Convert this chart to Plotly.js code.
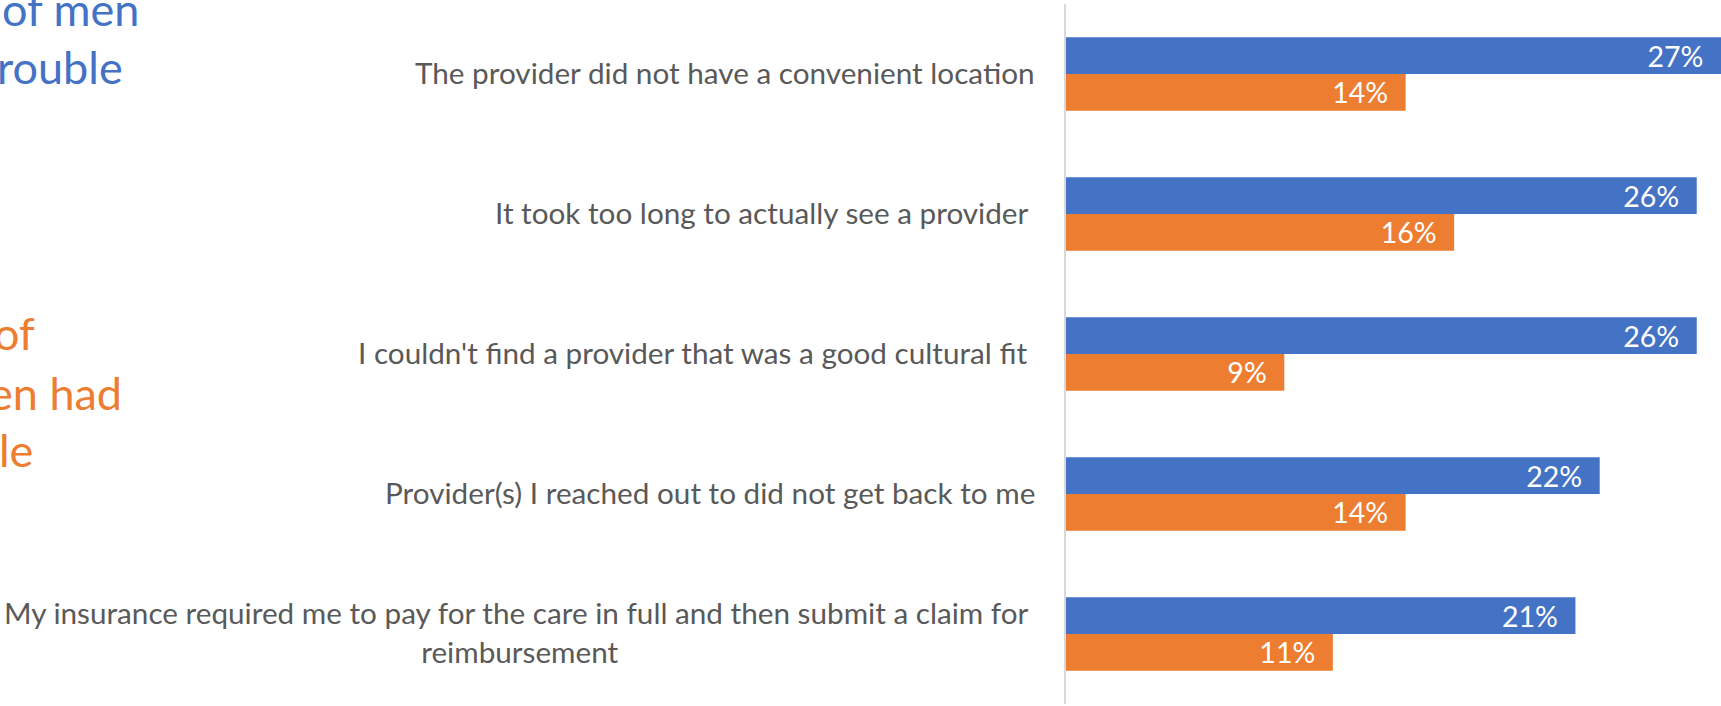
<!DOCTYPE html>
<html>
<head>
<meta charset="utf-8">
<script src="https://cdn.plot.ly/plotly-3.0.1.min.js"></script>
<style>html,body{margin:0;padding:0;background:#fff;}#chart{width:1721px;height:706px;}</style>
</head>
<body>
<div id="chart"></div>
<script>
// Data
var categories = [
  "The provider did not have a convenient location",
  "It took too long to actually see a provider\u00a0",
  "I couldn't find a provider that was a good cultural fit\u00a0",
  "Provider(s) I reached out to did not get back to me",
  "My insurance required me to pay for the care in full and then submit a claim for\u00a0<br>reimbursement"
];
var menValues = [27, 26, 26, 22, 21];
var womenValues = [14, 16, 9, 14, 11];
var seriesNames = ["Men", "Women"];
// Partial callout text visible at the left edge (text box cut off by the frame)
var menCallout = ["of men", "rouble"];
var womenCallout = ["of", "en had", "le"];

var BLUE = "#4472C4", ORANGE = "#ED7D31", GRAY = "#595959";
var FONT = "Lato, 'Open Sans', sans-serif";
var pad = "\u00a0\u00a0";

var traces = [
  {type: "bar", orientation: "h", name: seriesNames[0], y: categories, x: menValues,
   marker: {color: BLUE}, texttemplate: "%{x}%" + pad, textposition: "inside",
   insidetextanchor: "end", constraintext: "none",
   textfont: {family: FONT, size: 28.5, color: "#ffffff"}, hoverinfo: "skip"},
  {type: "bar", orientation: "h", name: seriesNames[1], y: categories, x: womenValues,
   marker: {color: ORANGE}, texttemplate: "%{x}%" + pad, textposition: "inside",
   insidetextanchor: "end", constraintext: "none",
   textfont: {family: FONT, size: 28.5, color: "#ffffff"}, hoverinfo: "skip"}
];

var annotations = categories.map(function (c) {
  return {xref: "paper", yref: "y", x: 0, y: c, xanchor: "right", yanchor: "middle",
          xshift: -29, yshift: 2, align: "center", showarrow: false, text: c,
          font: {family: FONT, size: 29.7, color: GRAY}};
});

var calloutRightPx = {men: [141, 125], women: [37, 124, 35]};
var calloutCenterPx = {men: [9, 67], women: [333, 393, 450]};
var plotLeft = 1066, plotTop = 4;
menCallout.forEach(function (t, i) {
  annotations.push({xref: "paper", yref: "paper", x: 0, y: 1, xanchor: "right", yanchor: "middle",
    xshift: calloutRightPx.men[i] - plotLeft, yshift: -(calloutCenterPx.men[i] - plotTop),
    showarrow: false, text: t, font: {family: FONT, size: 45, color: BLUE}});
});
womenCallout.forEach(function (t, i) {
  annotations.push({xref: "paper", yref: "paper", x: 0, y: 1, xanchor: "right", yanchor: "middle",
    xshift: calloutRightPx.women[i] - plotLeft, yshift: -(calloutCenterPx.women[i] - plotTop),
    showarrow: false, text: t, font: {family: FONT, size: 45, color: ORANGE}});
});

var layout = {
  width: 1721, height: 706,
  margin: {l: 1066, r: 0, t: 4, b: 2, pad: 0},
  paper_bgcolor: "#ffffff", plot_bgcolor: "#ffffff",
  barmode: "group", bargap: 0.476, bargroupgap: 0,
  showlegend: false,
  font: {family: FONT},
  xaxis: {range: [0, 27], visible: false, showgrid: false, zeroline: false, fixedrange: true},
  yaxis: {type: "category", autorange: "reversed", showticklabels: false, ticks: "",
          showgrid: false, zeroline: false, showline: true, linecolor: "#D9D9D9", linewidth: 2,
          fixedrange: true},
  annotations: annotations
};

Plotly.newPlot("chart", traces, layout, {displayModeBar: false, staticPlot: true});
</script>
</body>
</html>
